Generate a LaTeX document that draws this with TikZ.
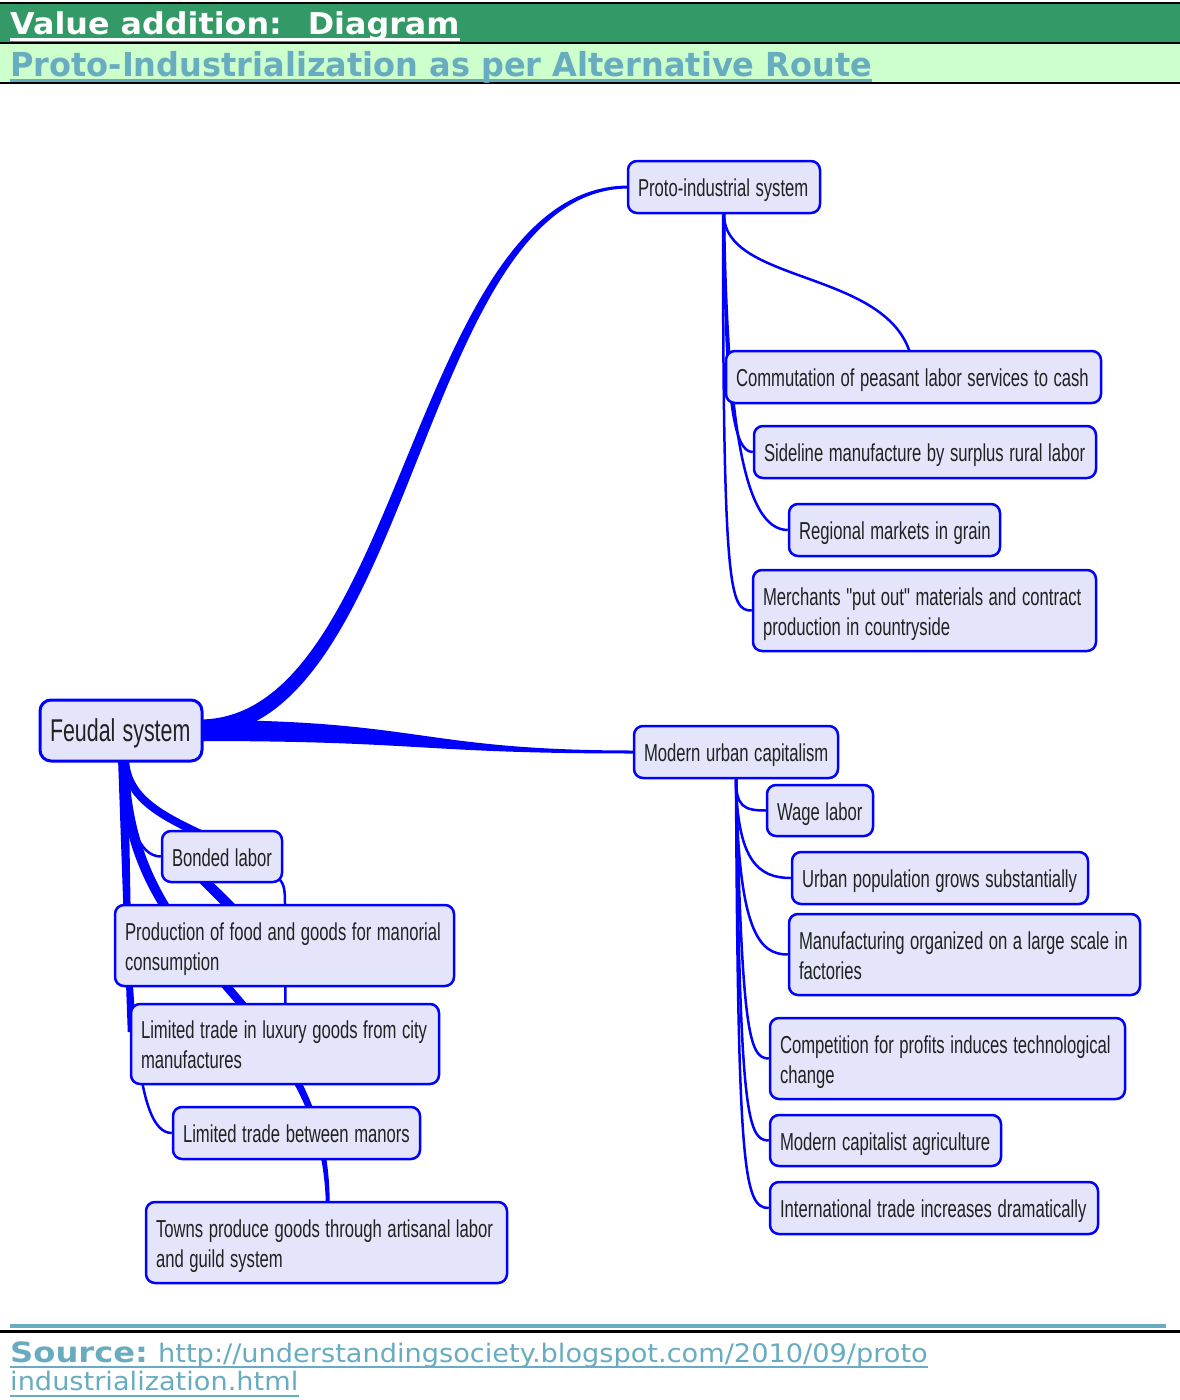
\documentclass[tikz,border=0pt]{standalone}
\usepackage{fontspec}
\usepackage{graphicx}
\usetikzlibrary{calc}
\setmainfont{Liberation Sans}
\newfontfamily\mapfont{Liberation Sans}
\newfontfamily\hOne{DejaVu Sans}[FakeStretch=1.06]
\newfontfamily\hTwo{DejaVu Sans}[FakeStretch=0.97]
\newfontfamily\srcfont{DejaVu Sans}[FakeStretch=1.15]
\newfontfamily\urlfont{DejaVu Sans}[FakeStretch=1.066]

\definecolor{hdgreen}{RGB}{51,153,102}
\definecolor{hdlight}{RGB}{204,255,204}
\definecolor{linkteal}{RGB}{104,172,192}
\definecolor{nodefill}{RGB}{228,228,250}
\definecolor{mapblue}{RGB}{0,0,255}
\definecolor{nodetext}{RGB}{34,34,34}

% box label: narrow left-aligned lines, set a little low inside the box
\newcommand{\nudge}[1]{\raisebox{-3.5pt}[\height][\depth]{\scalebox{0.68}[1]{\begin{tabular}{@{}l@{}}#1\end{tabular}}}}

\pgfdeclarelayer{links}
\pgfsetlayers{links,main}

\begin{document}
\begin{tikzpicture}[x=1pt,y=-1pt,
  mapbox/.style={draw=mapblue, fill=nodefill, line width=2.5pt, rounded corners=9pt,
    inner xsep=10pt, inner ysep=0pt, align=left, text=nodetext,
    font=\mapfont\fontsize{24.5}{30}\selectfont},
  edge/.style={draw=mapblue, line width=2.5pt},
  band/.style={fill=mapblue},
  headtext/.style={anchor=base west, inner sep=0pt}]

\useasboundingbox (0,0) rectangle (1180,1400);

% ---------- heading bands ----------
\fill[black] (0,1.5) rectangle (1180,3.5);
\fill[hdgreen] (0,3.5) rectangle (1180,41.5);
\fill[black] (0,41.5) rectangle (1180,44);
\fill[hdlight] (0,44) rectangle (1180,81.5);
\fill[black] (0,81.5) rectangle (1180,84);

\node[headtext, text=white, font=\hOne\bfseries\fontsize{30}{36}\selectfont] (title) at (10,34.5) {Value addition: \ Diagram};
\draw[white, line width=3pt] ($(title.base west)+(0,4.5)$) -- ($(title.base east)+(0,4.5)$);
\node[headtext, text=linkteal, font=\hTwo\bfseries\fontsize{33}{38}\selectfont] (subtitle) at (10,76) {Proto-Industrialization as per Alternative Route};
\draw[linkteal, line width=3pt] ($(subtitle.base west)+(0,4)$) -- ($(subtitle.base east)+(0,4)$);

% ---------- mind map boxes ----------
\path
  (121,730.5)  node[mapbox, minimum height=61pt, text width=142pt, rounded corners=11pt, line width=3pt,
                    font=\mapfont\fontsize{31.5}{38}\selectfont] (feudal) {\nudge{Feudal system}}
  (724,187)    node[mapbox, minimum height=52pt, text width=172pt] (proto) {\nudge{Proto-industrial system}}
  (913.5,377)  node[mapbox, minimum height=52pt, text width=355pt] (comm) {\nudge{Commutation of peasant labor services to cash}}
  (925,452)    node[mapbox, minimum height=52pt, text width=322pt] (side) {\nudge{Sideline manufacture by surplus rural labor}}
  (894.5,530)  node[mapbox, minimum height=52pt, text width=191pt] (regional) {\nudge{Regional markets in grain}}
  (924.5,610.5) node[mapbox, minimum height=81pt, text width=323pt] (merchants) {\nudge{Merchants "put out" materials and contract\\production in countryside}}
  (736,752)    node[mapbox, minimum height=52pt, text width=184pt] (muc) {\nudge{Modern urban capitalism}}
  (820,810.5)  node[mapbox, minimum height=51pt, text width=86pt] (wage) {\nudge{Wage labor}}
  (940,878)    node[mapbox, minimum height=52pt, text width=276pt] (urban) {\nudge{Urban population grows substantially}}
  (964.5,954.5) node[mapbox, minimum height=81pt, text width=331pt] (manuf) {\nudge{Manufacturing organized on a large scale in\\factories}}
  (947.5,1058.5) node[mapbox, minimum height=81pt, text width=335pt] (comp) {\nudge{Competition for profits induces technological\\change}}
  (885.5,1140.5) node[mapbox, minimum height=51pt, text width=211pt] (agri) {\nudge{Modern capitalist agriculture}}
  (934,1208)   node[mapbox, minimum height=52pt, text width=308pt] (intl) {\nudge{International trade increases dramatically}}
  (222,856.5)  node[mapbox, minimum height=51pt, text width=100pt] (bonded) {\nudge{Bonded labor}}
  (284.5,945.5) node[mapbox, minimum height=81pt, text width=319pt] (prod) {\nudge{Production of food and goods for manorial\\consumption}}
  (285,1044)   node[mapbox, minimum height=80pt, text width=288pt] (lux) {\nudge{Limited trade in luxury goods from city\\manufactures}}
  (296.5,1133) node[mapbox, minimum height=52pt, text width=227pt] (manors) {\nudge{Limited trade between manors}}
  (326.5,1242.5) node[mapbox, minimum height=81pt, text width=341pt] (towns) {\nudge{Towns produce goods through artisanal labor\\and guild system}};

% ---------- connectors, on the layer below the boxes ----------
\begin{pgfonlayer}{links}
\fill[white] (0,84) rectangle (1180,1323);
% main branches out of the feudal system, tapering towards the children
\fill[band] ($(feudal.east)+(-4,-11)$) .. controls +(202,0) and +(-216,0) .. ($(proto.west)+(2,-1.5)$)
  -- ($(proto.west)+(2,1.5)$) .. controls +(-208,0) and +(214,0) .. ($(feudal.east)+(-4,5)$) -- cycle;
\fill[band] ($(feudal.east)+(-4,-10.5)$) .. controls +(222,0) and +(-214,0) .. ($(muc.west)+(2,-1.5)$)
  -- ($(muc.west)+(2,1.5)$) .. controls +(-214,0) and +(222,0) .. ($(feudal.east)+(-4,10.5)$) -- cycle;

% feudal system children
\fill[band] ($(feudal.south)+(-3,-5)$) -- ($(feudal.south)+(7,-5)$) -- ($(lux.west)+(3,-12)$) -- ($(lux.west)+(-2,-12)$) -- cycle;
\fill[band] ($(feudal.south)+(-2,-4)$) .. controls +(-1,228) and +(21.5,-239.5) .. ($(towns.center)+(-2,0)$)
  -- ($(towns.center)+(1,0)$) .. controls +(26.5,-245.5) and +(1,228) .. ($(feudal.south)+(8,-4)$) -- cycle;
\draw[edge, line width=8pt] ($(feudal.south)+(4,-2)$) .. controls +(3,41) and +(-60,-27) .. ($(bonded.center)+(3,-11.5)$);
\draw[edge] ($(feudal.south)+(3,0)$) .. controls +(2,59) and +(-22,0) .. (bonded.west);
\draw[edge] ($(feudal.south)+(3,0)$) .. controls +(6,239) and +(-38,0) .. (manors.west);
\draw[edge, line width=10pt] ($(bonded.center)+(-37,5)$) -- ($(prod.center)+(-15,0)$);
\draw[edge] ($(bonded.south east)+(-8,-7)$) .. controls +(8,5) and +(0,-18) .. ($(prod.north)+(0.5,0)$) -- ($(lux.north)+(0.5,6)$);

% proto-industrial system children
\draw[edge] (proto.south) .. controls +(0,75) and +(0,-110) .. (comm.center);
\draw[edge] ($(proto.south)+(-1,0)$) .. controls +(0,380) and +(-22,0) .. (merchants.west);
\draw[edge] (proto.south) .. controls +(1,187) and +(-19,0) .. (side.west);
\draw[edge] (proto.south) .. controls +(3,207) and +(-44,0) .. (regional.west);

% modern urban capitalism children
\draw[edge] (muc.south) .. controls +(0,27) and +(-22,0) .. (wage.west);
\draw[edge] (muc.south) .. controls +(1,82) and +(-32,0) .. (urban.west);
\draw[edge] (muc.south) .. controls +(2,152) and +(-29,0) .. (manuf.west);
\draw[edge] (muc.south) .. controls +(6,252) and +(-20,0) .. (comp.west);
\draw[edge] (muc.south) .. controls +(4,332) and +(-22,0) .. (agri.west);
\draw[edge] (muc.south) .. controls +(2,392) and +(-25,0) .. (intl.west);
\end{pgfonlayer}

% ---------- source line ----------
\fill[linkteal] (10,1323.5) rectangle (1166,1327.5);
\fill[black] (0,1330) rectangle (1180,1332.5);
\node[headtext, text=linkteal, font=\srcfont\bfseries\fontsize{28}{34}\selectfont] (src) at (10,1362) {Source:};
\node[headtext, text=linkteal, font=\urlfont\fontsize{25.5}{30}\selectfont] (url) at (158,1362) {http://understandingsociety.blogspot.com/2010/09/proto};
\node[headtext, text=linkteal, font=\urlfont\fontsize{25.5}{30}\selectfont] (urltail) at (10,1390) {industrialization.html};
\draw[linkteal, line width=2pt] ($(src.base west)+(0,5)$) -- ($(url.base east)+(0,5)$);
\draw[linkteal, line width=2pt] ($(urltail.base west)+(0,6)$) -- ($(urltail.base east)+(0,6)$);
\end{tikzpicture}
\end{document}
